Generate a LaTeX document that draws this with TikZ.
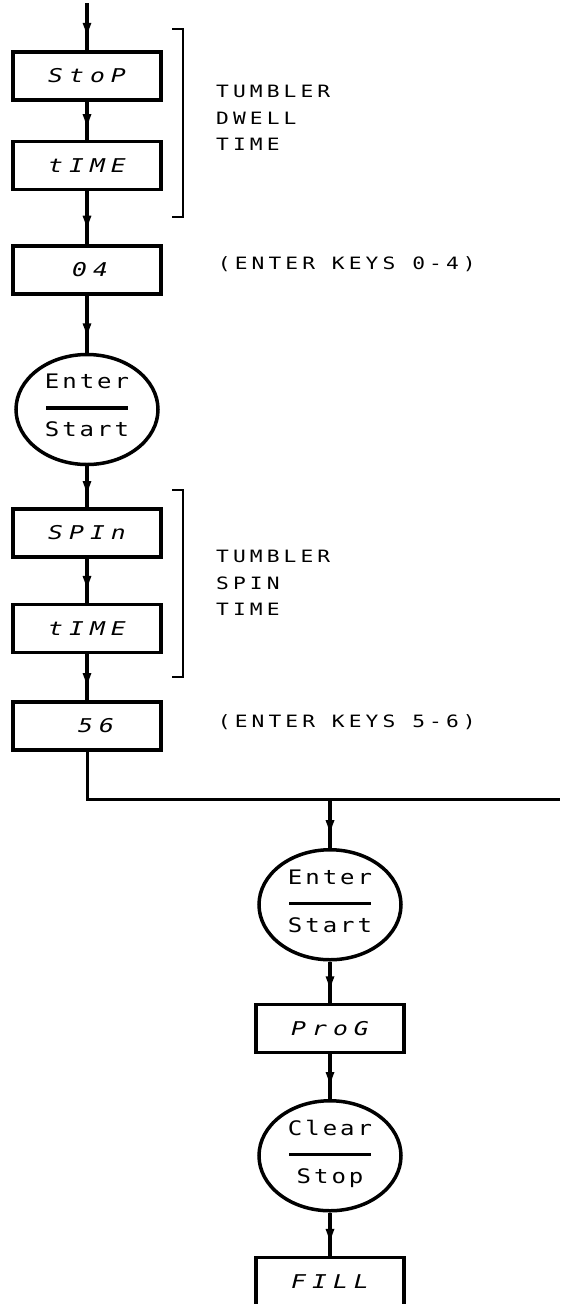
\documentclass[tikz,border=0pt]{standalone}
\usepackage{fontspec}
\usepackage{tikz}
\usetikzlibrary{positioning, shapes.geometric, arrows.meta, decorations.markings}

\newfontfamily\panelfont[FakeStretch=1.2, LetterSpace=15]{DejaVu Sans Mono}
\newfontfamily\notefont[FakeStretch=1.25, LetterSpace=24]{DejaVu Sans Mono}
\newfontfamily\keyfont[FakeStretch=1.3, LetterSpace=32]{DejaVu Sans Mono}

\begin{document}
\begin{tikzpicture}[
        x=1pt, y=1pt,
        keybox/.style={rectangle, draw, line width=3.5pt, minimum width=148pt, minimum height=48pt,
            inner sep=0pt, font=\keyfont\itshape\fontsize{19}{24}\selectfont},
        keyoval/.style={ellipse, draw, line width=3.5pt, minimum width=142pt, minimum height=110pt,
            inner sep=0pt, align=center, font=\panelfont\fontsize{20}{22}\selectfont},
        note/.style={align=left, inner sep=0pt, font=\notefont\fontsize{17}{26.5}\selectfont},
        flow/.style={line width=3.5pt, postaction={decorate},
            decoration={markings, mark=at position 0.8 with {\arrow{Latex[length=18pt,width=9pt]}}}},
        wire/.style={line width=3pt},
        bracket/.style={line width=1.8pt},
    ]
        \useasboundingbox (0,0) rectangle (560,-1304);

        % Tumbler dwell time
        \coordinate (entry) at (87,-3);
        \node[keybox] (stop1) at (87,-76) {StoP};
        \node[keybox, below=38pt of stop1] (time1) {tIME};
        \node[keybox, below=53pt of time1] (k04) {\hspace*{6pt}04};
        \node[keyoval, below=57pt of k04] (es1) {Enter\\[-1pt]\rule{82pt}{3.5pt}\\[5pt]Start\\[-14pt]\mbox{}};

        % Tumbler spin time
        \node[keybox, below=41pt of es1] (spin) {SPIn};
        \node[keybox, below=44pt of spin] (time2) {tIME};
        \node[keybox, below=46pt of time2] (k56) {\hspace*{18pt}56};

        % Program
        \coordinate (exit) at (560,-799);
        \coordinate (tap) at (330,-799);
        \node[keyoval, below=49pt of tap] (es2) {Enter\\[-1pt]\rule{82pt}{3.5pt}\\[5pt]Start\\[-14pt]\mbox{}};
        \node[keybox, below=41pt of es2] (prog) {ProG};
        \node[keyoval, below=45pt of prog] (cs) {Clear\\[-1pt]\rule{82pt}{3.5pt}\\[5pt]Stop\\[-14pt]\mbox{}};
        \node[keybox, below=43pt of cs] (fill) {FILL};

        % Arrows
        \draw[flow] (entry) -- (stop1);
        \draw[flow] (stop1) -- (time1);
        \draw[flow] (time1) -- (k04);
        \draw[flow] (k04) -- (es1);
        \draw[flow] (es1) -- (spin);
        \draw[flow] (spin) -- (time2);
        \draw[flow] (time2) -- (k56);
        \draw[wire] (k56.south) |- (exit);
        \draw[flow] (tap) -- (es2);
        \draw[flow] (es2) -- (prog);
        \draw[flow] (prog) -- (cs);
        \draw[flow] (cs) -- (fill);

        % Brackets
        \draw[bracket] (172,-29) -| (183,-217) -- (172,-217);
        \draw[bracket] (172,-490) -| (183,-677) -- (172,-677);

        % Labels
        \node[note, anchor=west] (dwell) at (216,-118) {TUMBLER\\DWELL\\TIME};
        \node[note, anchor=west] (spinnote) at (216,-583) {TUMBLER\\SPIN\\TIME};
        \node[note, right=55pt of k04, yshift=6pt] (keys04) {(ENTER KEYS 0-4)};
        \node[note, right=55pt of k56, yshift=4pt] (keys56) {(ENTER KEYS 5-6)};

    \end{tikzpicture}
\end{document}
